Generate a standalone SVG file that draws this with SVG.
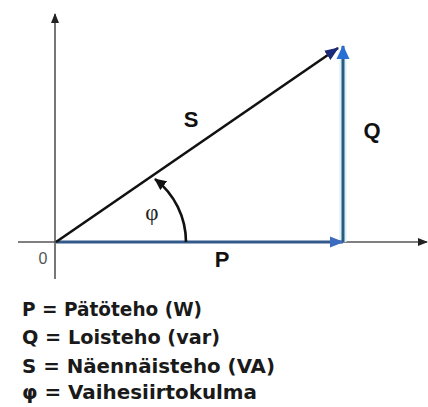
<svg xmlns="http://www.w3.org/2000/svg" width="428" height="407" viewBox="0 0 428 407">
<style>
.axis{stroke:#555;stroke-width:1.6;fill:none}
.lbl{font-family:"Liberation Sans",Arial,sans-serif;font-weight:bold;font-size:22px;fill:#111;text-anchor:middle}
.leg{font-family:"DejaVu Sans",sans-serif;font-weight:bold;font-size:19px;fill:#1a1a1a}
</style>
<defs>
<marker id="axArrow" markerUnits="userSpaceOnUse" markerWidth="10" markerHeight="10" viewBox="0 0 10 10" refX="9" refY="5" orient="auto">
<path d="M0,1 L10,5 L0,9 Z" fill="#222"/>
</marker>
<marker id="pArrow" markerUnits="userSpaceOnUse" markerWidth="14" markerHeight="12" viewBox="0 0 14 12" refX="13" refY="6" orient="auto">
<path d="M0,0.5 L14,6 L0,11.5 Z" fill="#3c6bc0"/>
</marker>
<marker id="qArrow" markerUnits="userSpaceOnUse" markerWidth="14" markerHeight="14" viewBox="0 0 14 14" refX="13" refY="7" orient="auto">
<path d="M0,0.5 L14,7 L0,13.5 Z" fill="#2a6fd6"/>
</marker>
<marker id="sArrow" markerUnits="userSpaceOnUse" markerWidth="14" markerHeight="12" viewBox="0 0 14 12" refX="13" refY="6" orient="auto">
<path d="M0,0.5 L14,6 L0,11.5 Z" fill="#1b2a7a"/>
</marker>
<marker id="arcArrow" markerUnits="userSpaceOnUse" markerWidth="12" markerHeight="12" viewBox="0 0 12 12" refX="11" refY="6" orient="auto">
<path d="M0,0.5 L12,6 L0,11.5 Z" fill="#111"/>
</marker>
</defs>
<rect width="428" height="407" fill="#fff"/>
<g id="connectors">
<line id="y-axis" class="axis" x1="55" y1="279" x2="55" y2="14" marker-end="url(#axArrow)"/>
<line id="x-axis" class="axis" x1="18" y1="242" x2="427" y2="242" marker-end="url(#axArrow)"/>
<line x1="343" y1="242" x2="343" y2="56" stroke="#d6f1fb" stroke-width="7"/>
<line id="Q" x1="343" y1="242" x2="343" y2="46" stroke="#2e5c78" stroke-width="3" marker-end="url(#qArrow)"/>
<line id="P" x1="56" y1="242" x2="343" y2="242" stroke="#33598a" stroke-width="3.2" marker-end="url(#pArrow)"/>
<line id="S" x1="56" y1="242" x2="338" y2="48" stroke="#111" stroke-width="2.6" marker-end="url(#sArrow)"/>
<path id="phi-arc" d="M186,242 A80,80 0 0 0 155,179" fill="none" stroke="#111" stroke-width="2.6" marker-end="url(#arcArrow)"/>
</g>
<g id="labels">
<text class="lbl" x="191" y="127">S</text>
<text class="lbl" x="372" y="138">Q</text>
<text class="lbl" x="222" y="267">P</text>
<text x="152" y="220" font-family="'Liberation Serif','Times New Roman',serif" font-size="23" fill="#222" text-anchor="middle">φ</text>
<text x="43" y="264" font-family="'Liberation Sans',Arial,sans-serif" font-size="16" fill="#555" text-anchor="middle">0</text>
</g>
<g id="legend">
<text class="leg" x="22" y="316" textLength="180" lengthAdjust="spacingAndGlyphs">P = Pätöteho (W)</text>
<text class="leg" x="22" y="344" textLength="198" lengthAdjust="spacingAndGlyphs">Q = Loisteho (var)</text>
<text class="leg" x="22" y="373" textLength="253" lengthAdjust="spacingAndGlyphs">S = Näennäisteho (VA)</text>
<text class="leg" x="22" y="399" textLength="235" lengthAdjust="spacingAndGlyphs">φ = Vaihesiirtokulma</text>
</g>
</svg>
